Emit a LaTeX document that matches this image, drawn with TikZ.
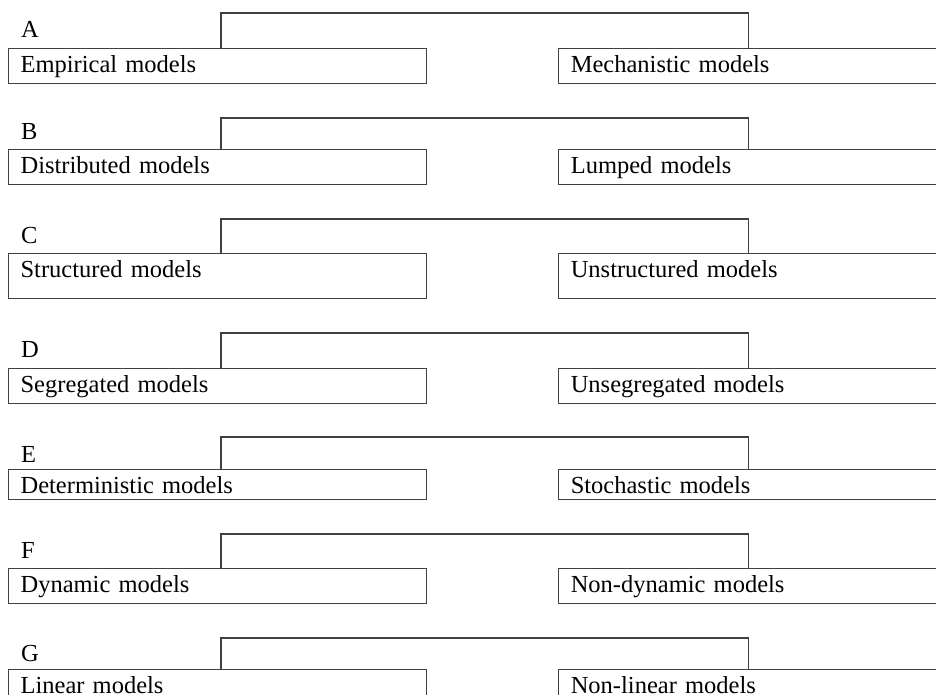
\documentclass[tikz,border=0pt]{standalone}
\usepackage{fontspec}
\setmainfont{Liberation Serif}
\usetikzlibrary{positioning,calc}
\tikzset{
block/.style = {draw=black!75, fill=white, rectangle, line width=1.2pt, anchor=north west, minimum width=418pt, minimum height=35pt, text width=394pt, text height=18pt, text depth=5pt, inner xsep=12pt, inner ysep=0pt, align=left},
tag/.style = {anchor=base west, inner sep=0pt},
link/.style = {draw=black!75, line width=1.2pt}
}
\begin{document}
\begin{tikzpicture}[x=1pt, y=-1pt, node distance=131pt, font=\fontsize{24.5}{28}\selectfont]
\clip (0,0) rectangle (936,695);
% A
\node[block] (emp) at (8,48) {Empirical models};
\node[block, right=of emp] (mech) {Mechanistic models};
\node[tag] (labA) at ([xshift=13pt,yshift=10pt]emp.north west) {A};
\draw[link] ([xshift=213pt]emp.north west) -- ++(0,-35) -| ([xshift=190pt]mech.north west);
% B
\node[block] (dist) at (8,149) {Distributed models};
\node[block, right=of dist] (lump) {Lumped models};
\node[tag] (labB) at ([xshift=13pt,yshift=9pt]dist.north west) {B};
\draw[link] ([xshift=213pt]dist.north west) -- ++(0,-31) -| ([xshift=190pt]lump.north west);
% C
\node[block, minimum height=45pt, text depth=15pt] (struc) at (8,253) {Structured models};
\node[block, minimum height=45pt, text depth=15pt, right=of struc] (unstruc) {Unstructured models};
\node[tag] (labC) at ([xshift=13pt,yshift=10pt]struc.north west) {C};
\draw[link] ([xshift=213pt]struc.north west) -- ++(0,-34) -| ([xshift=190pt]unstruc.north west);
% D
\node[block] (seg) at (8,368) {Segregated models};
\node[block, right=of seg] (unseg) {Unsegregated models};
\node[tag] (labD) at ([xshift=13pt,yshift=11pt]seg.north west) {D};
\draw[link] ([xshift=213pt]seg.north west) -- ++(0,-35) -| ([xshift=190pt]unseg.north west);
% E
\node[block, minimum height=30pt, text depth=0pt] (det) at (8,469) {Deterministic models};
\node[block, minimum height=30pt, text depth=0pt, right=of det] (stoch) {Stochastic models};
\node[tag] (labE) at ([xshift=13pt,yshift=7pt]det.north west) {E};
\draw[link] ([xshift=213pt]det.north west) -- ++(0,-32) -| ([xshift=190pt]stoch.north west);
% F
\node[block] (dyn) at (8,568) {Dynamic models};
\node[block, right=of dyn] (nondyn) {Non-dynamic models};
\node[tag] (labF) at ([xshift=13pt,yshift=10pt]dyn.north west) {F};
\draw[link] ([xshift=213pt]dyn.north west) -- ++(0,-34) -| ([xshift=190pt]nondyn.north west);
% G
\node[block] (lin) at (8,669) {Linear models};
\node[block, right=of lin] (nonlin) {Non-linear models};
\node[tag] (labG) at ([xshift=13pt,yshift=8pt]lin.north west) {G};
\draw[link] ([xshift=213pt]lin.north west) -- ++(0,-31) -| ([xshift=190pt]nonlin.north west);
\end{tikzpicture}
\end{document}
